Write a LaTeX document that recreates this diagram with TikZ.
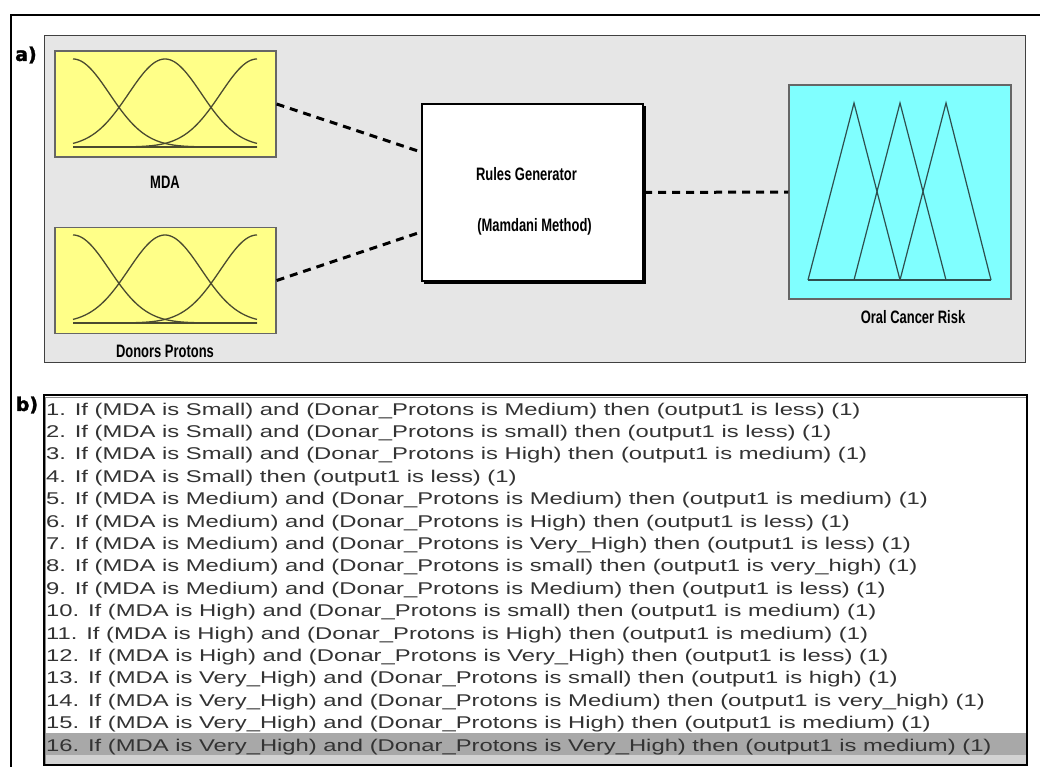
\documentclass[tikz,border=0pt]{standalone}
\usepackage{fontspec}
\setmainfont{Liberation Sans}
\newfontfamily\rulefont[FakeStretch=1.40]{Liberation Sans}
\newfontfamily\labfont[FakeStretch=0.72]{Liberation Sans}
\newfontfamily\tagfont[FakeBold=1.5]{DejaVu Sans}
\definecolor{panelgray}{HTML}{E6E6E6}
\definecolor{mfyellow}{HTML}{FFFF88}
\definecolor{mfcyan}{HTML}{80FFFF}
\definecolor{curvecol}{HTML}{4A4A30}
\definecolor{tricol}{HTML}{2F4F4F}
\definecolor{rowtext}{HTML}{333333}
\definecolor{rowsel}{HTML}{A8A8A8}
\definecolor{rowstrip}{HTML}{D2D2D2}
\tikzset{
  inbox/.style={draw=black!60, line width=1.2pt, fill=mfyellow, minimum width=221pt, minimum height=106pt, inner sep=0pt},
  outbox/.style={draw=black!60, line width=1.2pt, fill=mfcyan, minimum width=222pt, minimum height=214pt, inner sep=0pt},
  rulesbox/.style={draw=black, line width=2pt, fill=white, minimum width=221pt, minimum height=177pt, inner sep=0pt},
  lab/.style={font=\labfont\bfseries\fontsize{18}{20}\selectfont, inner sep=0pt},
  tag/.style={font=\tagfont\bfseries\fontsize{19}{21}\selectfont, inner sep=0pt},
  rule/.style={font=\rulefont\fontsize{17}{19}\selectfont, text=rowtext, anchor=base west, inner sep=0pt},
  conn/.style={line width=3pt, dash pattern=on 8pt off 6pt},
  mfcurve/.style={draw=curvecol, line width=1.3pt},
  tri/.style={draw=tricol, line width=1.2pt}
}
\begin{document}
\begin{tikzpicture}[x=1pt,y=-1pt]
\useasboundingbox (0,0) rectangle (1040,767);
\fill[white] (0,0) rectangle (1040,767);
% outer frame (top and left)
\draw[line width=2pt] (1040,15) -- (11,15) -- (11,767);
% panel a
\node[draw=black!75, line width=1pt, fill=panelgray, minimum width=981pt, minimum height=326pt, inner sep=0pt] (pa) at (534.5,199) {};
\node[tag] (ta) at (26,55) {a)};
% input boxes
\node[inbox] (mda) at (165.5,104) {};
\node[inbox] (dp) at (165.5,280.5) {};
% gaussian curves
\foreach \dy in {0,176} {
  \begin{scope}[yshift=-\dy pt]
  \draw[mfcurve] plot[domain=73:257, samples=90, smooth] (\x, {147 - 88*exp(-0.5*((\x-73)/36.4)^2)});
  \draw[mfcurve] plot[domain=73:257, samples=90, smooth] (\x, {147 - 88*exp(-0.5*((\x-165)/36.4)^2)});
  \draw[mfcurve] plot[domain=73:257, samples=90, smooth] (\x, {147 - 88*exp(-0.5*((\x-257)/36.4)^2)});
  \draw[mfcurve] (73,147) -- (257,147);
  \end{scope}
}
\node[lab] (lmda) at (165,182) {MDA};
\node[lab] (ldp) at (165,351) {Donors Protons};
% rules generator
\fill[black] (424,106) rectangle (645.5,283.5);
\node[rulesbox] (rg) at (532.5,192.5) {};
\node[lab] (rg1) at (526.5,174) {Rules Generator};
\node[lab] (rg2) at (534.5,227) {(Mamdani Method)};
% output box
\node[outbox] (ocr) at (900,192) {};
\draw[tri] (808,280) -- (854,103) -- (900,280);
\draw[tri] (854,280) -- (900,103) -- (946,280);
\draw[tri] (900,280) -- (946,103) -- (991,280);
\draw[tri] (808,280) -- (991,280);
\node[lab] (locr) at (913,317) {Oral Cancer Risk};
% connectors
\draw[conn] (mda.east) -- ([yshift=40.5pt]rg.west);
\draw[conn] (dp.east) -- ([yshift=-39.5pt]rg.west);
\draw[conn] (rg.east) -- (ocr.west);
% panel b
\node[tag] (tb) at (27,405) {b)};
\fill[white] (44,395) rectangle (1027,765);
\fill[rowsel] (45,733) rectangle (1026,755);
\fill[rowstrip] (45,755) rectangle (1026,763.5);
\draw[black!45, line width=1pt] (45.5,764) -- (45.5,397) -- (1026,397);
\node[draw=black, line width=1.5pt, minimum width=983pt, minimum height=370pt, inner sep=0pt] (rb) at (535.5,580) {};
\node[rule] (r1) at (46,415) {1. If (MDA is Small) and (Donar\_Protons is Medium) then (output1 is less) (1)};
\node[rule] (r2) at (46,437.4) {2. If (MDA is Small) and (Donar\_Protons is small) then (output1 is less) (1)};
\node[rule] (r3) at (46,459.8) {3. If (MDA is Small) and (Donar\_Protons is High) then (output1 is medium) (1)};
\node[rule] (r4) at (46,482.2) {4. If (MDA is Small) then (output1 is less) (1)};
\node[rule] (r5) at (46,504.6) {5. If (MDA is Medium) and (Donar\_Protons is Medium) then (output1 is medium) (1)};
\node[rule] (r6) at (46,527) {6. If (MDA is Medium) and (Donar\_Protons is High) then (output1 is less) (1)};
\node[rule] (r7) at (46,549.4) {7. If (MDA is Medium) and (Donar\_Protons is Very\_High) then (output1 is less) (1)};
\node[rule] (r8) at (46,571.8) {8. If (MDA is Medium) and (Donar\_Protons is small) then (output1 is very\_high) (1)};
\node[rule] (r9) at (46,594.2) {9. If (MDA is Medium) and (Donar\_Protons is Medium) then (output1 is less) (1)};
\node[rule] (r10) at (46,616.6) {10. If (MDA is High) and (Donar\_Protons is small) then (output1 is medium) (1)};
\node[rule] (r11) at (46,639) {11. If (MDA is High) and (Donar\_Protons is High) then (output1 is medium) (1)};
\node[rule] (r12) at (46,661.4) {12. If (MDA is High) and (Donar\_Protons is Very\_High) then (output1 is less) (1)};
\node[rule] (r13) at (46,683.8) {13. If (MDA is Very\_High) and (Donar\_Protons is small) then (output1 is high) (1)};
\node[rule] (r14) at (46,706.2) {14. If (MDA is Very\_High) and (Donar\_Protons is Medium) then (output1 is very\_high) (1)};
\node[rule] (r15) at (46,728.6) {15. If (MDA is Very\_High) and (Donar\_Protons is High) then (output1 is medium) (1)};
\node[rule] (r16) at (46,751) {16. If (MDA is Very\_High) and (Donar\_Protons is Very\_High) then (output1 is medium) (1)};
\end{tikzpicture}
\end{document}
